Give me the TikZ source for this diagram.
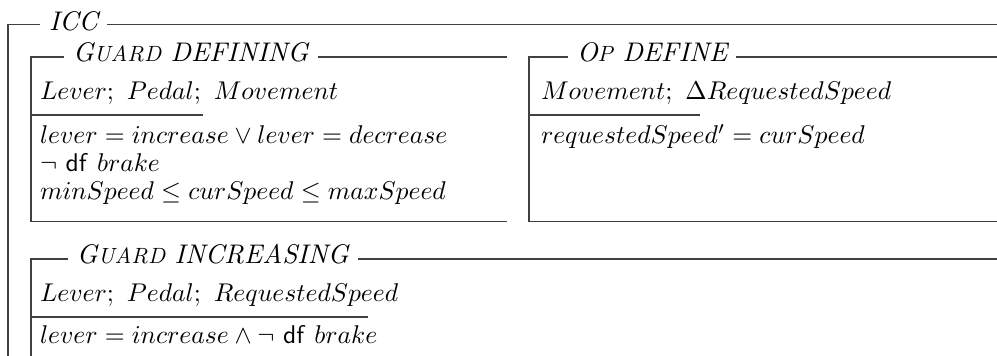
\documentclass[tikz,border=0pt]{standalone}
\usepackage{amsmath}
\newcommand{\zdf}{\mathsf{df}}
\newcommand{\zsc}[2]{#1{\fontsize{8.6}{10}\selectfont #2}}
\begin{document}
\begin{tikzpicture}[x=0.39pt,y=-0.39pt,
  frame/.style={draw=black!75,line width=0.42pt},
  txt/.style={anchor=base west,inner sep=0pt,outer sep=0pt},
  ttl/.style={anchor=base west,inner sep=0pt,outer sep=0pt,font=\fontsize{10.5}{12}\selectfont\itshape}]
\useasboundingbox (0,0) rectangle (997,356);
% ICC outer frame
\node[ttl] (icc) at (49,30.5) {ICC};
\draw[frame] (icc.west |- 0,24.5) ++(-9,0) -- (8,24.5) -- (8,356);
\draw[frame] (icc.east |- 0,24.5) ++(9,0) -- (997,24.5);
% Guard DEFINING
\node[ttl] (gd) at (73,61.5) {\zsc{G}{UARD} DEFINING};
\draw[frame] (gd.west |- 0,57) ++(-9,0) -- (31,57) -- (31,221.5) -- (507,221.5);
\draw[frame] (gd.east |- 0,57) ++(9,0) -- (507,57);
\draw[frame] (31,115) -- (203,115);
\node[txt] (gd1) at (40,100) {$Lever;\ Pedal;\ Movement$};
\node[txt] (gd2) at (40,143.5) {$lever = increase \lor lever = decrease$};
\node[txt] (gd3) at (40,171.5) {$\lnot\ \zdf\ brake$};
\node[txt] (gd4) at (40,199.5) {$minSpeed \leq curSpeed \leq maxSpeed$};
% Op DEFINE
\node[ttl] (od) at (577,61.5) {\zsc{O}{P} DEFINE};
\draw[frame] (od.west |- 0,57) ++(-9,0) -- (529,57) -- (529,221.5) -- (997,221.5);
\draw[frame] (od.east |- 0,57) ++(9,0) -- (997,57);
\draw[frame] (529,115) -- (700,115);
\node[txt] (od1) at (541,100) {$Movement;\ \Delta RequestedSpeed$};
\node[txt] (od2) at (541,143.5) {$requestedSpeed' = curSpeed$};
% Guard INCREASING
\node[ttl] (gi) at (77,263.5) {\zsc{G}{UARD} INCREASING};
\draw[frame] (gi.west |- 0,259) ++(-9,0) -- (31,259) -- (31,356);
\draw[frame] (gi.east |- 0,259) ++(9,0) -- (997,259);
\draw[frame] (31,317) -- (368,317);
\node[txt] (gi1) at (40,302) {$Lever;\ Pedal;\ RequestedSpeed$};
\node[txt] (gi2) at (40,344) {$lever = increase \land \lnot\ \zdf\ brake$};
\end{tikzpicture}
\end{document}
